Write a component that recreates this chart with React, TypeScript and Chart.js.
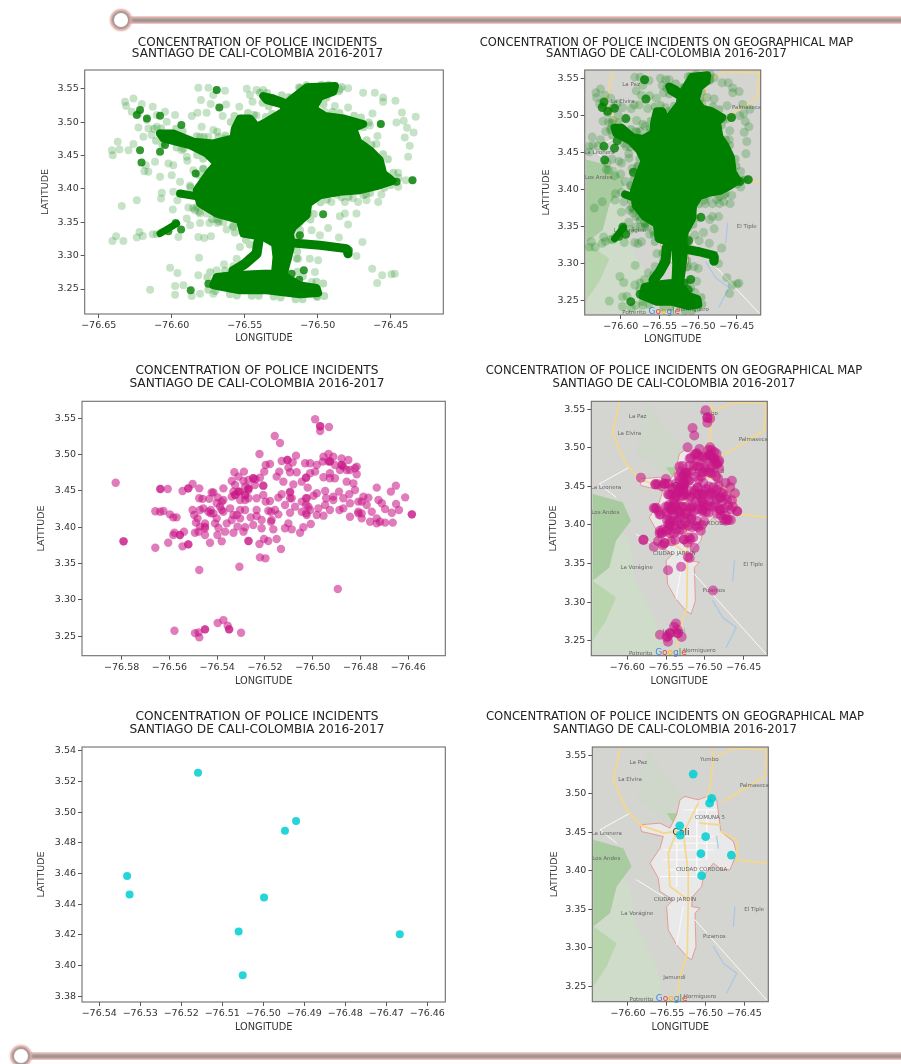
import React, { useEffect, useRef } from "react";
import { Chart, registerables } from "chart.js";

Chart.register(...registerables);

type P = [number, number];

const TITLE_LEFT = ["CONCENTRATION OF POLICE INCIDENTS", "SANTIAGO DE CALI-COLOMBIA 2016-2017"];
const TITLE_RIGHT = ["CONCENTRATION OF POLICE INCIDENTS ON GEOGRAPHICAL MAP", "SANTIAGO DE CALI-COLOMBIA 2016-2017"];

const MAP_LON_TICKS = [-76.6, -76.55, -76.5, -76.45];
const MAP_LAT_TICKS = [3.25, 3.3, 3.35, 3.4, 3.45, 3.5, 3.55];
const P1_LON_TICKS = [-76.65, -76.6, -76.55, -76.5, -76.45];
const P3_LON_TICKS = [-76.58, -76.56, -76.54, -76.52, -76.5, -76.48, -76.46];
const P5_LON_TICKS = [-76.54, -76.53, -76.52, -76.51, -76.5, -76.49, -76.48, -76.47, -76.46];
const P5_LAT_TICKS = [3.38, 3.4, 3.42, 3.44, 3.46, 3.48, 3.5, 3.52, 3.54];

// Series 1: the saturated mass of incidents (outline of the solid region)
const GREEN_CORE: P[] = [
  [-76.608, 3.483], [-76.5989, 3.483], [-76.5852, 3.4705], [-76.5715, 3.468], [-76.5578, 3.4755], [-76.5567, 3.4905],
  [-76.5533, 3.5055], [-76.5464, 3.5055], [-76.5419, 3.493], [-76.535, 3.5005], [-76.5236, 3.5155], [-76.5225, 3.5255],
  [-76.535, 3.533], [-76.5373, 3.539], [-76.5304, 3.5355], [-76.5213, 3.528], [-76.5156, 3.538], [-76.5076, 3.552],
  [-76.4882, 3.554], [-76.4893, 3.5455], [-76.4985, 3.538], [-76.5031, 3.5205], [-76.4951, 3.509], [-76.4826, 3.5055],
  [-76.4689, 3.497], [-76.4757, 3.4905], [-76.4723, 3.4705], [-76.4643, 3.458], [-76.4575, 3.443], [-76.4552, 3.423],
  [-76.4488, 3.412], [-76.4598, 3.404], [-76.4712, 3.398], [-76.4849, 3.3955], [-76.4985, 3.3905], [-76.5065, 3.378],
  [-76.5077, 3.3605], [-76.5168, 3.343], [-76.5191, 3.333], [-76.5179, 3.318], [-76.5202, 3.298], [-76.5236, 3.2705],
  [-76.5122, 3.2555], [-76.5008, 3.2515], [-76.4997, 3.244], [-76.5122, 3.242], [-76.535, 3.248], [-76.5533, 3.248],
  [-76.5715, 3.2555], [-76.5692, 3.268], [-76.5578, 3.2705], [-76.5373, 3.273], [-76.5293, 3.273], [-76.5282, 3.298],
  [-76.5293, 3.318], [-76.5373, 3.328], [-76.551, 3.333], [-76.5533, 3.353], [-76.5692, 3.363], [-76.5806, 3.378],
  [-76.5829, 3.398], [-76.5749, 3.423], [-76.5692, 3.438], [-76.5761, 3.453], [-76.5875, 3.4655],
  [-76.5966, 3.4705], [-76.6057, 3.4755], [-76.608, 3.483],
];
// Fuzzy rim of isolated incidents just outside the solid region
const GREEN_RIM: P[] = [
  [-76.612, 3.49], [-76.598, 3.491], [-76.584, 3.479], [-76.572, 3.476], [-76.563, 3.48], [-76.561, 3.495], [-76.556, 3.513],
  [-76.545, 3.514], [-76.541, 3.503], [-76.534, 3.509], [-76.528, 3.517], [-76.541, 3.533], [-76.541, 3.544], [-76.529, 3.543],
  [-76.52, 3.537], [-76.513, 3.55], [-76.507, 3.556], [-76.484, 3.556], [-76.483, 3.548], [-76.493, 3.541], [-76.497, 3.522],
  [-76.492, 3.516], [-76.48, 3.512], [-76.463, 3.503], [-76.47, 3.49], [-76.466, 3.47], [-76.459, 3.46], [-76.452, 3.445],
  [-76.45, 3.428], [-76.443, 3.413], [-76.458, 3.398], [-76.47, 3.39], [-76.485, 3.387], [-76.496, 3.383], [-76.502, 3.375],
  [-76.503, 3.358], [-76.511, 3.343], [-76.514, 3.33], [-76.514, 3.3], [-76.516, 3.28], [-76.508, 3.265], [-76.496, 3.258],
  [-76.494, 3.24], [-76.512, 3.234], [-76.535, 3.24], [-76.555, 3.24], [-76.577, 3.25], [-76.575, 3.275], [-76.555, 3.279],
  [-76.545, 3.3], [-76.547, 3.322], [-76.556, 3.328], [-76.558, 3.345], [-76.573, 3.355], [-76.586, 3.372], [-76.588, 3.4],
  [-76.58, 3.425], [-76.575, 3.44], [-76.582, 3.45], [-76.592, 3.46], [-76.605, 3.465], [-76.613, 3.475], [-76.612, 3.49],
];
const GREEN_BRANCH_A: P[] = [[-76.5407, 3.3205], [-76.5419, 3.303], [-76.5498, 3.288], [-76.5578, 3.277]];
const GREEN_BRANCH_B: P[] = [[-76.5168, 3.319], [-76.4985, 3.3155], [-76.4803, 3.3105], [-76.4792, 3.303]];
const GREEN_BRANCH_C: P[] = [[-76.5943, 3.393], [-76.5806, 3.388]];
const GREEN_BRANCH_D: P[] = [[-76.608, 3.333], [-76.5966, 3.348]];

const GREEN_DENSE: P[] = [
  [-76.6217, 3.518], [-76.6239, 3.5105], [-76.617, 3.5055], [-76.608, 3.5095], [-76.5934, 3.4955], [-76.5674, 3.522],
  [-76.6217, 3.458], [-76.6207, 3.4395], [-76.608, 3.4555], [-76.6046, 3.4655], [-76.5836, 3.423], [-76.5973, 3.349],
  [-76.6023, 3.3365], [-76.5936, 3.339], [-76.5749, 3.258], [-76.587, 3.248], [-76.4963, 3.362], [-76.5122, 3.3305],
  [-76.5179, 3.273], [-76.5127, 3.264], [-76.5095, 3.278], [-76.446, 3.4105], [-76.4351, 3.413], [-76.4568, 3.497],
  [-76.4787, 3.308], [-76.4796, 3.303], [-76.5692, 3.548],
];

const GREEN_SPARSE: P[] = [
  [-76.632, 3.5305], [-76.6262, 3.5355], [-76.6312, 3.524], [-76.6205, 3.527], [-76.613, 3.523], [-76.6274, 3.5155],
  [-76.6228, 3.513], [-76.617, 3.503], [-76.6103, 3.5105], [-76.6046, 3.5155], [-76.5977, 3.5105], [-76.616, 3.4905],
  [-76.6228, 3.492], [-76.6194, 3.478], [-76.6103, 3.493], [-76.6137, 3.4805], [-76.6034, 3.5005], [-76.5863, 3.509],
  [-76.5824, 3.514], [-76.5761, 3.514], [-76.5818, 3.5515], [-76.5749, 3.5515], [-76.58, 3.533], [-76.5692, 3.548],
  [-76.5715, 3.5405], [-76.5635, 3.547], [-76.5733, 3.527], [-76.5628, 3.5265], [-76.5651, 3.509], [-76.5537, 3.523],
  [-76.5486, 3.55], [-76.5464, 3.5405], [-76.5419, 3.548], [-76.5447, 3.5305], [-76.5373, 3.548], [-76.5179, 3.537],
  [-76.5129, 3.552], [-76.4792, 3.5505], [-76.4849, 3.549], [-76.4883, 3.524], [-76.4792, 3.522], [-76.4951, 3.5155],
  [-76.4689, 3.544], [-76.4609, 3.544], [-76.4552, 3.537], [-76.4552, 3.5305], [-76.4468, 3.532], [-76.4625, 3.513],
  [-76.4423, 3.5145], [-76.4461, 3.4995], [-76.4411, 3.502], [-76.4329, 3.508], [-76.4388, 3.4915], [-76.4343, 3.4845],
  [-76.4404, 3.477], [-76.437, 3.4645], [-76.4381, 3.448], [-76.4591, 3.479], [-76.4598, 3.467], [-76.4568, 3.497],
  [-76.4643, 3.495], [-76.4449, 3.424], [-76.446, 3.4105], [-76.4449, 3.403], [-76.4351, 3.413], [-76.4397, 3.413],
  [-76.4564, 3.3915], [-76.4586, 3.3805], [-76.4666, 3.383], [-76.4723, 3.3805], [-76.4814, 3.3805], [-76.4906, 3.3805],
  [-76.4849, 3.359], [-76.4814, 3.363], [-76.4735, 3.363], [-76.4792, 3.3465], [-76.4929, 3.3415], [-76.5042, 3.338],
  [-76.4985, 3.3305], [-76.4855, 3.327], [-76.4694, 3.3205], [-76.4735, 3.2995], [-76.5054, 3.2955], [-76.4997, 3.293],
  [-76.5134, 3.2955], [-76.4627, 3.2805], [-76.4559, 3.2705], [-76.4495, 3.272], [-76.4472, 3.273], [-76.4593, 3.259],
  [-76.5019, 3.2755], [-76.5042, 3.2605], [-76.5008, 3.2395], [-76.641, 3.458], [-76.6404, 3.4505], [-76.637, 3.4705],
  [-76.6358, 3.459], [-76.6296, 3.458], [-76.6262, 3.467], [-76.6342, 3.3745], [-76.6239, 3.383], [-76.6406, 3.322],
  [-76.6381, 3.329], [-76.6331, 3.322], [-76.6239, 3.327], [-76.6198, 3.3295], [-76.6221, 3.3355], [-76.613, 3.332],
  [-76.6103, 3.332], [-76.6068, 3.3355], [-76.6148, 3.249], [-76.6011, 3.282], [-76.5961, 3.274], [-76.5977, 3.2545],
  [-76.592, 3.2555], [-76.5977, 3.2415], [-76.5863, 3.2395], [-76.5818, 3.2705], [-76.5813, 3.297], [-76.5806, 3.243],
  [-76.5715, 3.243], [-76.5692, 3.278], [-76.5642, 3.287], [-76.5578, 3.284], [-76.5555, 3.2955], [-76.5533, 3.313],
  [-76.5818, 3.328], [-76.5777, 3.3265], [-76.5731, 3.329], [-76.5806, 3.349], [-76.5742, 3.349], [-76.5688, 3.349],
  [-76.5624, 3.339], [-76.5954, 3.328], [-76.5874, 3.3455], [-76.5897, 3.3555], [-76.5993, 3.369], [-76.5961, 3.383],
  [-76.5886, 3.372], [-76.584, 3.368], [-76.6068, 3.394], [-76.6073, 3.3855], [-76.5989, 3.3955], [-76.5943, 3.4105],
  [-76.6, 3.4205], [-76.608, 3.418], [-76.616, 3.4255], [-76.6187, 3.4265], [-76.6178, 3.4355], [-76.6114, 3.4405],
  [-76.6023, 3.438], [-76.5989, 3.4355], [-76.5893, 3.442], [-76.5932, 3.458], [-76.5897, 3.448], [-76.5783, 3.4305],
  [-76.5715, 3.488], [-76.5795, 3.493], [-76.5875, 3.473], [-76.5806, 3.478], [-76.5749, 3.478], [-76.5688, 3.4855],
  [-76.5635, 3.4755], [-76.4871, 3.391], [-76.476, 3.386], [-76.4669, 3.392], [-76.5065, 3.363], [-76.5129, 3.348],
  [-76.5578, 3.343], [-76.5646, 3.35], [-76.5692, 3.355], [-76.576, 3.363], [-76.5829, 3.373], [-76.5806, 3.363],
  [-76.4643, 3.41], [-76.5852, 3.428], [-76.5875, 3.405], [-76.5692, 3.44], [-76.5555, 3.479], [-76.5419, 3.51],
];

// Series 2
const MAGENTA: P[] = [
  [-76.5825, 3.4614], [-76.5792, 3.3807], [-76.5792, 3.3807], [-76.5659, 3.3719], [-76.5605, 3.3788], [-76.5579, 3.3926],
  [-76.5584, 3.3894], [-76.5556, 3.3894], [-76.5556, 3.3894], [-76.5539, 3.394], [-76.5545, 3.3738], [-76.5521, 3.3765],
  [-76.5521, 3.3765], [-76.5659, 3.422], [-76.5639, 3.4215], [-76.5625, 3.4224], [-76.5598, 3.4178], [-76.5584, 3.4137],
  [-76.557, 3.4137], [-76.5638, 3.4527], [-76.5638, 3.4527], [-76.5607, 3.4527], [-76.5545, 3.45], [-76.5521, 3.4536],
  [-76.5521, 3.4536], [-76.5503, 3.4596], [-76.5475, 3.4536], [-76.5475, 3.3412], [-76.5307, 3.3458], [-76.5221, 3.3586],
  [-76.5198, 3.3573], [-76.5133, 3.3701], [-76.5151, 3.3839], [-76.5186, 3.3811], [-76.5204, 3.3839], [-76.5223, 3.377],
  [-76.5269, 3.3811], [-76.5269, 3.3811], [-76.5381, 3.3807], [-76.5399, 3.3894], [-76.543, 3.3788], [-76.4895, 3.315],
  [-76.5579, 3.2576], [-76.5493, 3.2544], [-76.5478, 3.2554], [-76.5475, 3.2485], [-76.5451, 3.2595], [-76.5451, 3.2595],
  [-76.5398, 3.2682], [-76.5374, 3.2723], [-76.5356, 3.2645], [-76.535, 3.2595], [-76.535, 3.2595], [-76.53, 3.2549],
  [-76.499, 3.5487], [-76.4969, 3.539], [-76.4969, 3.539], [-76.4969, 3.5326], [-76.4932, 3.5381], [-76.5159, 3.5257],
  [-76.5137, 3.5161], [-76.5223, 3.5009], [-76.5197, 3.4858], [-76.5179, 3.4871], [-76.507, 3.4986], [-76.513, 3.4913],
  [-76.5106, 3.4927], [-76.5106, 3.4927], [-76.5084, 3.4894], [-76.5102, 3.4821], [-76.5095, 3.4757], [-76.5067, 3.4757],
  [-76.514, 3.4766], [-76.5203, 3.4766], [-76.5221, 3.4683], [-76.524, 3.466], [-76.5328, 3.4757], [-76.5288, 3.4766],
  [-76.5339, 3.4637], [-76.5311, 3.4697], [-76.529, 3.4637], [-76.5269, 3.4651], [-76.5249, 3.4674], [-76.5249, 3.4674],
  [-76.5325, 3.4582], [-76.5283, 3.4559], [-76.5242, 3.4582], [-76.5332, 3.4491], [-76.5304, 3.4491], [-76.5269, 3.4513],
  [-76.5207, 3.4573], [-76.5207, 3.4573], [-76.5151, 3.4697], [-76.5123, 3.4628], [-76.5081, 3.4591], [-76.5028, 3.4683],
  [-76.5028, 3.4683], [-76.5046, 3.4628], [-76.5021, 3.4546], [-76.4983, 3.4468], [-76.4948, 3.45], [-76.5032, 3.4881],
  [-76.5011, 3.4881], [-76.4983, 3.4858], [-76.499, 3.4766], [-76.5011, 3.4743], [-76.4958, 3.4904], [-76.4955, 3.4972],
  [-76.4934, 3.5009], [-76.4914, 3.4972], [-76.4934, 3.4904], [-76.4907, 3.4858], [-76.4879, 3.4946], [-76.4851, 3.4927],
  [-76.4872, 3.4835], [-76.4886, 3.4789], [-76.4858, 3.4789], [-76.4823, 3.4812], [-76.4816, 3.473], [-76.483, 3.4605],
  [-76.4823, 3.4513], [-76.4858, 3.4628], [-76.4928, 3.4743], [-76.4955, 3.4688], [-76.4928, 3.4674], [-76.4907, 3.4674],
  [-76.489, 3.4491], [-76.4914, 3.4422], [-76.4944, 3.4399], [-76.4948, 3.4307], [-76.4928, 3.4238], [-76.4888, 3.4238],
  [-76.4872, 3.4399], [-76.4847, 3.4454], [-76.4844, 3.433], [-76.4872, 3.4261], [-76.4844, 3.4146], [-76.4809, 3.4215],
  [-76.4788, 3.4422], [-76.4809, 3.4353], [-76.4774, 3.4307], [-76.4767, 3.4408], [-76.4753, 3.4215], [-76.4732, 3.4546],
  [-76.4725, 3.4376], [-76.4711, 3.433], [-76.4697, 3.4252], [-76.4673, 3.4491], [-76.4652, 3.4573], [-76.4613, 3.4412],
  [-76.4651, 3.4321], [-76.4639, 3.4238], [-76.4669, 3.4201], [-76.4585, 3.4178], [-76.4585, 3.4178], [-76.4665, 3.4064],
  [-76.4697, 3.4064], [-76.4732, 3.4123], [-76.4718, 3.4077], [-76.476, 3.4077], [-76.4795, 3.4123], [-76.4809, 3.4192],
  [-76.4732, 3.4054], [-76.5503, 3.4238], [-76.5496, 3.4169], [-76.5482, 3.4123], [-76.5489, 3.4064], [-76.5472, 3.4009],
  [-76.5451, 3.3986], [-76.5451, 3.3894], [-76.5478, 3.394], [-76.5493, 3.3926], [-76.5472, 3.4238], [-76.5458, 3.4261],
  [-76.5437, 3.4215], [-76.5416, 3.4192], [-76.5402, 3.4123], [-76.5409, 3.4054], [-76.5395, 3.3995], [-76.5367, 3.394],
  [-76.5332, 3.3926], [-76.5315, 3.4009], [-76.5304, 3.4123], [-76.5339, 3.41], [-76.536, 3.4054], [-76.5332, 3.4169],
  [-76.5304, 3.4238], [-76.5283, 3.4238], [-76.5346, 3.4261], [-76.5374, 3.4376], [-76.5398, 3.4412], [-76.5416, 3.448],
  [-76.5475, 3.4399], [-76.5461, 3.4391], [-76.5433, 3.4391], [-76.5388, 3.4284], [-76.5402, 3.433], [-76.5374, 3.4215],
  [-76.5423, 3.448], [-76.5374, 3.4536], [-76.5381, 3.4353], [-76.5304, 3.4376], [-76.5283, 3.4376], [-76.5339, 3.4422],
  [-76.5269, 3.4399], [-76.5235, 3.4399], [-76.5207, 3.4445], [-76.5197, 3.4353], [-76.5179, 3.4362], [-76.5144, 3.4408],
  [-76.513, 3.4454], [-76.5095, 3.4481], [-76.5088, 3.4399], [-76.5074, 3.4284], [-76.5116, 3.4307], [-76.5158, 3.4238],
  [-76.5186, 3.4229], [-76.5144, 3.4178], [-76.5172, 3.41], [-76.5165, 3.3972], [-76.5235, 3.4238], [-76.5235, 3.4155],
  [-76.526, 3.4137], [-76.5249, 3.4031], [-76.5214, 3.41], [-76.5214, 3.3986], [-76.5283, 3.4], [-76.529, 3.394],
  [-76.5318, 3.4169], [-76.5095, 3.4201], [-76.5102, 3.4054], [-76.5116, 3.3986], [-76.5088, 3.3972], [-76.5053, 3.3926],
  [-76.5039, 3.4], [-76.5008, 3.4045], [-76.5025, 3.4169], [-76.5046, 3.4215], [-76.5046, 3.4353], [-76.5025, 3.4399],
  [-76.4997, 3.4435], [-76.5018, 3.4284], [-76.5011, 3.4238], [-76.4983, 3.4169], [-76.4955, 3.416], [-76.4976, 3.4261],
  [-76.4914, 3.4376], [-76.5269, 3.4536], [-76.5269, 3.4536], [-76.5311, 3.4491], [-76.5311, 3.4491], [-76.5283, 3.4445],
  [-76.5283, 3.4445], [-76.5325, 3.4445], [-76.5325, 3.4445], [-76.5095, 3.4491], [-76.5095, 3.4399], [-76.4928, 3.4907],
  [-76.4928, 3.4907], [-76.4879, 3.4858], [-76.4879, 3.4858], [-76.4844, 3.4789], [-76.4816, 3.4835], [-76.5028, 3.4399],
  [-76.5028, 3.4307], [-76.5028, 3.4192], [-76.5175, 3.4215], [-76.5175, 3.4077], [-76.4795, 3.4353], [-76.4795, 3.4192],
  [-76.5427, 3.4238], [-76.5427, 3.4192], [-76.5381, 3.4238], [-76.5451, 3.4054], [-76.5451, 3.4009],
];

// Series 3
const CYAN: P[] = [
  [-76.5159, 3.5257], [-76.492, 3.4942], [-76.4947, 3.4879], [-76.5332, 3.4584], [-76.5326, 3.4464],
  [-76.4998, 3.4443], [-76.506, 3.4223], [-76.4667, 3.4204], [-76.505, 3.3937],
];

// Base map
const CITY: P[] = [
  [-76.5265, 3.4965], [-76.5093, 3.4922], [-76.4985, 3.4965], [-76.4856, 3.4922], [-76.4813, 3.4597], [-76.4805, 3.4511],
  [-76.4641, 3.4381], [-76.4598, 3.4229], [-76.4684, 3.4013], [-76.4792, 3.4013], [-76.4899, 3.4099], [-76.5028, 3.3926],
  [-76.505, 3.3796], [-76.5166, 3.3666], [-76.5179, 3.3536], [-76.5071, 3.3515], [-76.5136, 3.345], [-76.5123, 3.3017],
  [-76.5179, 3.2844], [-76.5243, 3.2887], [-76.5372, 3.3039], [-76.548, 3.3233], [-76.5501, 3.3536], [-76.5415, 3.3623],
  [-76.5587, 3.3731], [-76.5609, 3.3904], [-76.5716, 3.4099], [-76.5587, 3.4294], [-76.5544, 3.4446], [-76.5824, 3.451],
  [-76.5845, 3.4597], [-76.5587, 3.4619], [-76.5458, 3.4554], [-76.5372, 3.4727], [-76.5329, 3.4922], [-76.5265, 3.4965],
];
const TERRAIN_DARK: P[] = [[-76.6447, 3.4402], [-76.606, 3.4294], [-76.5953, 3.4056], [-76.6146, 3.3796], [-76.6232, 3.345], [-76.6447, 3.3277]];
const TERRAIN_MID: P[] = [[-76.6447, 3.3277], [-76.6146, 3.306], [-76.6275, 3.2757], [-76.6447, 3.2497]];
const TERRAIN_PALE_S: P[] = [[-76.6447, 3.2324], [-76.5544, 3.2324], [-76.563, 3.2757], [-76.5888, 3.3277], [-76.5974, 3.3796], [-76.6447, 3.44]];
const TERRAIN_PALE_N: P[] = [[-76.5759, 3.5593], [-76.5286, 3.4965], [-76.55, 3.4662], [-76.5888, 3.4922]];
const TERRAIN_SPOT: P[] = [[-76.55, 3.4749], [-76.5329, 3.4749], [-76.5415, 3.4619]];
const ROADS_YELLOW: P[][] = [
  [[-76.6103, 3.5593], [-76.6189, 3.5182], [-76.6017, 3.4792], [-76.5845, 3.4597], [-76.5544, 3.4489], [-76.5372, 3.4511]],
  [[-76.4921, 3.5593], [-76.4899, 3.5442], [-76.4942, 3.5074], [-76.4985, 3.4965]],
  [[-76.4211, 3.5572], [-76.4641, 3.5593], [-76.4856, 3.5485]],
  [[-76.4211, 3.5572], [-76.4233, 3.5225], [-76.477, 3.49]],
  [[-76.5222, 3.3623], [-76.5235, 3.293], [-76.5329, 3.2627], [-76.5372, 3.2324]],
  [[-76.4598, 3.4143], [-76.4211, 3.4099]],
  [[-76.4805, 3.4511], [-76.4598, 3.4402], [-76.4598, 3.4143]],
  [[-76.5372, 3.4511], [-76.548, 3.4229], [-76.5459, 3.3796], [-76.5222, 3.3623]],
  [[-76.5093, 3.4879], [-76.5286, 3.4489], [-76.5222, 3.397], [-76.5222, 3.3623]],
  [[-76.5071, 3.4619], [-76.4813, 3.4597]],
];
const ROADS_WHITE: P[][] = [
  [[-76.5544, 3.4143], [-76.5071, 3.4143]],
  [[-76.5587, 3.3926], [-76.5071, 3.3926]],
  [[-76.5415, 3.4359], [-76.4856, 3.4359]],
  [[-76.5501, 3.4012], [-76.5028, 3.4012]],
  [[-76.5544, 3.4272], [-76.4899, 3.4272]],
  [[-76.5372, 3.4446], [-76.4899, 3.4446]],
  [[-76.5286, 3.4792], [-76.4856, 3.4792]],
  [[-76.5372, 3.4359], [-76.5372, 3.3796]],
  [[-76.5114, 3.4835], [-76.5114, 3.3926]],
  [[-76.4985, 3.4792], [-76.4985, 3.4143]],
  [[-76.5286, 3.3536], [-76.5372, 3.3039]],
  [[-76.5136, 3.3363], [-76.4211, 3.2324]],
  [[-76.5888, 3.3883], [-76.5544, 3.3666]],
  [[-76.5974, 3.4749], [-76.6361, 3.4532], [-76.6146, 3.4359]],
];
const RIVERS: P[][] = [
  [[-76.462, 3.3536], [-76.4641, 3.3277]],
  [[-76.4899, 3.3017], [-76.477, 3.28], [-76.4598, 3.267], [-76.4727, 3.2411]],
  [[-76.4856, 3.4446], [-76.4835, 3.4294]],
];
const PLACE_NAMES: [string, number, number][] = [
  ["La Paz", -76.5867, 3.5411], ["La Elvira", -76.5974, 3.5182], ["Yumbo", -76.4951, 3.5442], ["Palmaseca", -76.4362, 3.5104],
  ["La Leonera", -76.6275, 3.4489], ["Los Andes", -76.631, 3.416], ["La Vorágine", -76.588, 3.3445], ["El Tiple", -76.434, 3.3493],
  ["Pízamos", -76.4886, 3.3147], ["Jamundí", -76.5402, 3.2618], ["Potrerito", -76.5828, 3.2328], ["Hormiguero", -76.5071, 3.2367],
  ["COMUNA 5", -76.4942, 3.4693], ["CIUDAD JARDÍN", -76.5394, 3.3623], ["CIUDAD CÓRDOBA", -76.505, 3.4013],
];
const CITY_NAME: [string, number, number] = ["Cali", -76.5316, 3.4502];
const LOGO_TEXT = "Google";
const LOGO_POS: [number, number] = [-76.5437, 3.2346];
const LOGO_COLORS = ["#4285f4", "#ea4335", "#fbbc05", "#4285f4", "#34a853", "#ea4335"];

const GREEN = "rgb(0,128,0)";
const MAGENTA_COL = "rgba(199,21,133,0.56)";
const CYAN_COL = "rgba(0,206,209,0.85)";

const line = (data: P[], color: string, width: number, fill = false, fillColor = color) => ({
  data: data.map(([x, y]) => ({ x, y })),
  showLine: true,
  borderColor: color,
  backgroundColor: fillColor,
  borderWidth: width,
  borderCapStyle: "round",
  borderJoinStyle: "round",
  fill: fill ? "shape" : false,
  pointRadius: 0,
  tension: 0,
});
const rim = (data: P[], dash: number[]) => ({ ...line(data, "rgba(0,128,0,0.27)", 8), borderDash: dash });
const dots = (data: P[], color: string, r = 4) => ({
  data: data.map(([x, y]) => ({ x, y })),
  showLine: false,
  backgroundColor: color,
  borderColor: color,
  pointBackgroundColor: color,
  pointBorderWidth: 0,
  pointRadius: r,
});

const mapLayers = () => [
  ...RIVERS.map((r) => line(r, "#a9c6e6", 1.2)),
  ...ROADS_YELLOW.map((r) => line(r, "#f5d78a", 1.7)),
  ...ROADS_WHITE.map((r) => line(r, "#fafafa", 1)),
  line(CITY, "#e58b80", 0.8, true, "#e9e9e9"),
  line(TERRAIN_SPOT, "#a8cf9c", 0, true),
  line(TERRAIN_DARK, "#a9cba0", 0, true),
  line(TERRAIN_MID, "#b9d5ae", 0, true),
  line(TERRAIN_PALE_N, "#cfd7cb", 0, true),
  line(TERRAIN_PALE_S, "#cfdcc9", 0, true),
];

const greenSet = (r: number) => () => [
  line(GREEN_CORE, GREEN, 8, true),
  line(GREEN_BRANCH_A, GREEN, 10),
  line(GREEN_BRANCH_B, GREEN, 9),
  line(GREEN_BRANCH_C, GREEN, 8),
  line(GREEN_BRANCH_D, GREEN, 7),
  dots(GREEN_DENSE, "rgba(0,128,0,0.8)", r),
  dots(GREEN_SPARSE, "rgba(0,128,0,0.22)", r),
  rim(GREEN_CORE, [0, 8, 0, 13]),
  rim(GREEN_RIM, [0, 7, 0, 15]),
];

type PanelDef = {
  key: string; title: string[]; titleSize: number; left: number; l: number; r: number; t: number; b: number; cx: number; titleY: number; lh: number;
  xLabelY: number; yLabelX: number; xMin: number; xMax: number; yMin: number; yMax: number; xTicks: number[]; yTicks: number[];
  isMap: boolean; marks: () => any[];
};

const PANELS: PanelDef[] = [
  { key: "a", title: TITLE_LEFT, titleSize: 12, left: 20, l: 84.7, r: 443.3, t: 70, b: 314, cx: 257.7, titleY: 42.7, lh: 11.4, xLabelY: 337.7, yLabelX: 46.3,
    xMin: -76.6596, xMax: -76.414, yMin: 3.2126, yMax: 3.578, xTicks: P1_LON_TICKS, yTicks: MAP_LAT_TICKS, isMap: false, marks: greenSet(4) },
  { key: "b", title: TITLE_RIGHT, titleSize: 11.5, left: 470, l: 584.7, r: 760.7, t: 70, b: 315, cx: 666.7, titleY: 42.7, lh: 11.4, xLabelY: 338.7, yLabelX: 547.3,
    xMin: -76.6466, xMax: -76.419, yMin: 3.23, yMax: 3.5612, xTicks: MAP_LON_TICKS, yTicks: MAP_LAT_TICKS, isMap: true, marks: greenSet(4.5) },
  { key: "c", title: TITLE_LEFT, titleSize: 12.2, left: 20, l: 82, r: 445.3, t: 401.3, b: 655.7, cx: 257, titleY: 371.3, lh: 12.7, xLabelY: 680.3, yLabelX: 42,
    xMin: -76.5966, xMax: -76.4445, yMin: 3.2233, yMax: 3.5734, xTicks: P3_LON_TICKS, yTicks: MAP_LAT_TICKS, isMap: false, marks: () => [dots(MAGENTA, MAGENTA_COL, 4.2)] },
  { key: "d", title: TITLE_RIGHT, titleSize: 11.6, left: 475, l: 591.3, r: 767.3, t: 401.3, b: 655.7, cx: 674.2, titleY: 371.3, lh: 12.7, xLabelY: 680.3, yLabelX: 554.3,
    xMin: -76.6464, xMax: -76.4196, yMin: 3.2305, yMax: 3.5604, xTicks: MAP_LON_TICKS, yTicks: MAP_LAT_TICKS, isMap: true, marks: () => [dots(MAGENTA, MAGENTA_COL, 5)] },
  { key: "e", title: TITLE_LEFT, titleSize: 12.2, left: 20, l: 82, r: 445.3, t: 747, b: 1002, cx: 257, titleY: 717.3, lh: 12.7, xLabelY: 1026.3, yLabelX: 42,
    xMin: -76.5442, xMax: -76.4556, yMin: 3.3763, yMax: 3.5424, xTicks: P5_LON_TICKS, yTicks: P5_LAT_TICKS, isMap: false, marks: () => [dots(CYAN, CYAN_COL)] },
  { key: "f", title: TITLE_RIGHT, titleSize: 11.65, left: 476, l: 592.3, r: 768.3, t: 747, b: 1001.7, cx: 675, titleY: 717.3, lh: 12.7, xLabelY: 1026.3, yLabelX: 555,
    xMin: -76.646, xMax: -76.419, yMin: 3.23, yMax: 3.5608, xTicks: MAP_LON_TICKS, yTicks: MAP_LAT_TICKS, isMap: true, marks: () => [dots(CYAN, CYAN_COL, 4.4)] },
];

const FONT = "'DejaVu Sans', sans-serif";
const fmt = (v: number, d = 2) => (v < 0 ? "\u2212" + Math.abs(v).toFixed(d) : v.toFixed(d));

function Panel({ p }: { p: PanelDef }) {
  const ref = useRef<HTMLCanvasElement>(null);
  const top = Math.floor(p.titleY - p.lh / 2);
  const bottom = Math.ceil(p.xLabelY + 8);
  const width = Math.round(2 * (p.cx - p.left));
  const height = bottom - top;

  useEffect(() => {
    const marks = p.marks();
    const datasets: any[] = p.isMap ? [...marks, ...mapLayers()] : marks;
    const lastMark = marks.length - 1;
    const scaleFit = (size: number, horizontal: boolean) => (s: any) => {
      if (horizontal) s.height = size;
      else s.width = size;
      s.paddingLeft = s.paddingRight = s.paddingTop = s.paddingBottom = 0;
    };
    const yPad = p.yLabelX - p.left - 6;
    const chart = new Chart(ref.current as HTMLCanvasElement, {
      type: "line",
      data: { datasets },
      options: {
        animation: false,
        responsive: false,
        events: [],
        layout: { padding: { top: p.titleY - p.lh / 2 - top, left: 0, right: 0, bottom: 0 } },
        plugins: {
          legend: { display: false },
          tooltip: { enabled: false },
          title: {
            display: true,
            text: p.title,
            color: "#222",
            font: { family: FONT, size: p.titleSize, weight: "normal", lineHeight: p.lh / p.titleSize },
            padding: { top: 0, bottom: p.t - p.titleY + p.lh / 2 - 2 * p.lh },
          },
        },
        scales: {
          x: {
            type: "linear",
            min: p.xMin,
            max: p.xMax,
            afterBuildTicks: (s: any) => { s.ticks = p.xTicks.map((value) => ({ value })); },
            afterFit: scaleFit(bottom - p.b, true),
            border: { display: false },
            grid: { drawOnChartArea: false, drawTicks: true, tickLength: 4, tickColor: "#555", tickWidth: 1 },
            ticks: { color: "#333", font: { family: FONT, size: 9.5 }, padding: 2, maxRotation: 0, minRotation: 0, autoSkip: false, callback: (v: any) => fmt(Number(v)) },
            title: { display: true, text: "LONGITUDE", color: "#333", font: { family: FONT, size: 9.8, lineHeight: 1.2 }, padding: { top: 0, bottom: 2 } },
          },
          y: {
            type: "linear",
            min: p.yMin,
            max: p.yMax,
            afterBuildTicks: (s: any) => { s.ticks = p.yTicks.map((value) => ({ value })); },
            afterFit: scaleFit(p.l - p.left, false),
            border: { display: false },
            grid: { drawOnChartArea: false, drawTicks: true, tickLength: 4, tickColor: "#555", tickWidth: 1 },
            ticks: { color: "#333", font: { family: FONT, size: 9.5 }, padding: 2, autoSkip: false, callback: (v: any) => fmt(Number(v)) },
            title: { display: true, text: "LATITUDE", color: "#333", font: { family: FONT, size: 9.5, lineHeight: 1.2 }, padding: { top: yPad, bottom: yPad } },
          },
          spacer: {
            type: "linear",
            position: "right",
            display: true,
            afterBuildTicks: (s: any) => { s.ticks = []; },
            afterFit: scaleFit(width - (p.r - p.left), false),
            border: { display: false },
            grid: { display: false },
            ticks: { display: false },
          },
        },
      },
      plugins: [
        {
          id: "panelFrame",
          beforeDatasetsDraw(c: any) {
            if (!p.isMap) return;
            const a = c.chartArea;
            c.ctx.save();
            c.ctx.fillStyle = "#d4d4d1";
            c.ctx.fillRect(a.left, a.top, a.width, a.height);
            c.ctx.restore();
          },
          beforeDatasetDraw(c: any, args: any) {
            if (!p.isMap || args.index !== lastMark) return;
            const ctx = c.ctx;
            const sx = c.scales.x;
            const sy = c.scales.y;
            ctx.save();
            ctx.textAlign = "center";
            ctx.textBaseline = "middle";
            ctx.fillStyle = "#666";
            ctx.font = `5.5px ${FONT}`;
            PLACE_NAMES.forEach(([n, lon, lat]) => {
              const px = Math.max(c.chartArea.left + 14, Math.min(c.chartArea.right - 14, sx.getPixelForValue(lon)));
              ctx.fillText(n, px, sy.getPixelForValue(lat));
            });
            ctx.fillStyle = "#333";
            ctx.font = `9px ${FONT}`;
            ctx.fillText(CITY_NAME[0], sx.getPixelForValue(CITY_NAME[1]), sy.getPixelForValue(CITY_NAME[2]));
            ctx.font = `9px ${FONT}`;
            ctx.textAlign = "left";
            const w = ctx.measureText(LOGO_TEXT).width;
            let x = sx.getPixelForValue(LOGO_POS[0]) - w / 2;
            LOGO_TEXT.split("").forEach((ch, i) => {
              ctx.fillStyle = LOGO_COLORS[i];
              ctx.fillText(ch, x, sy.getPixelForValue(LOGO_POS[1]));
              x += ctx.measureText(ch).width;
            });
            ctx.restore();
          },
          afterDatasetsDraw(c: any) {
            const a = c.chartArea;
            const ctx = c.ctx;
            ctx.save();
            ctx.strokeStyle = "#6e6e6e";
            ctx.lineWidth = 1.1;
            ctx.strokeRect(a.left, a.top, a.width, a.height);
            ctx.restore();
          },
        },
      ],
    } as any);
    return () => chart.destroy();
  }, [p]);

  return (
    <canvas
      ref={ref}
      width={width}
      height={height}
      style={{ position: "absolute", left: p.left, top, width, height }}
    />
  );
}

function Rule({ cx, cy, barLeft }: { cx: number; cy: number; barLeft: number }) {
  return (
    <>
      <div
        style={{
          position: "absolute", left: barLeft, right: 0, top: cy - 4, height: 8,
          background: "linear-gradient(to bottom,#f3dcd9 0%,#d9a8a3 22%,#9a9a9a 45%,#9d9090 60%,#d3a09b 80%,#f2dad7 100%)",
        }}
      />
      <div
        style={{
          position: "absolute", left: cx - 9, top: cy - 9, width: 14, height: 14, borderRadius: "50%",
          background: "#fff", border: "2px solid #a89a98", boxShadow: "0 0 2px 2px #dba9a4",
        }}
      />
    </>
  );
}

export default function App() {
  return (
    <div style={{ position: "absolute", left: 0, top: 0, width: 901, height: 1064, overflow: "hidden", background: "#fff", filter: "blur(0.35px)" }}>
      <Rule cx={121} cy={20} barLeft={126} />
      <Rule cx={21} cy={1056} barLeft={26} />
      {PANELS.map((p) => (
        <Panel key={p.key} p={p} />
      ))}
    </div>
  );
}
